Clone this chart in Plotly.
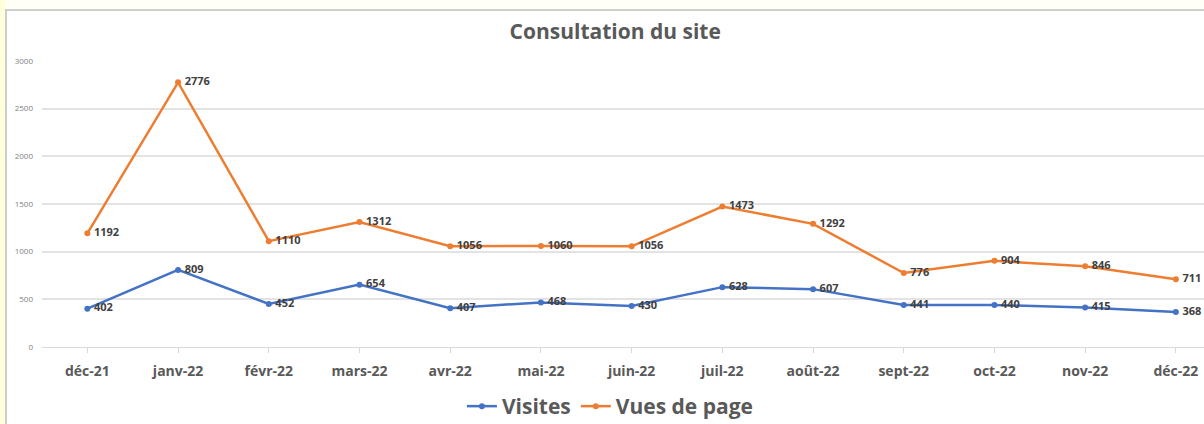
import plotly.graph_objects as go

# Data
months = ['déc-21', 'janv-22', 'févr-22', 'mars-22', 'avr-22', 'mai-22', 'juin-22',
          'juil-22', 'août-22', 'sept-22', 'oct-22', 'nov-22', 'déc-22']
visites = [402, 809, 452, 654, 407, 468, 430, 628, 607, 441, 440, 415, 368]
vues_de_page = [1192, 2776, 1110, 1312, 1056, 1060, 1056, 1473, 1292, 776, 904, 846, 711]
y_ticks = [0, 500, 1000, 1500, 2000, 2500, 3000]

# pixel geometry helpers (plot area: x 42..1204, y 61..347)
L, R, T, B = 42, 1204, 61, 347


def px_x(p):
    return (p - L) / (R - L)


def px_y(p):
    return (B - p) / (B - T)


fig = go.Figure()

series = [('Visites', visites, '#4472C4'), ('Vues de page', vues_de_page, '#ED7D31')]
for name, vals, col in series:
    fig.add_trace(go.Scatter(
        x=list(range(len(months))),
        y=vals,
        name=name,
        mode='lines+markers+text',
        line=dict(color=col, width=2.5),
        marker=dict(size=6, color=col),
        text=['\u2009' + str(v) for v in vals],
        textposition='middle right',
        textfont=dict(family='Open Sans', size=11, color='#404040', weight='bold'),
        cliponaxis=False,
    ))

fig.update_layout(
    width=1204, height=424,
    margin=dict(l=L, r=0, t=T, b=424 - B, autoexpand=False),
    paper_bgcolor='#fffff7',
    plot_bgcolor='white',
    title=dict(
        text='<b>Consultation du site</b>',
        x=0.511, xref='container', xanchor='center',
        y=1 - 32 / 424, yref='container', yanchor='middle',
        font=dict(family='Open Sans', size=21, color='#595959'),
    ),
    showlegend=True,
    legend=dict(
        orientation='h',
        x=0.507, xref='container', xanchor='center',
        y=1 - 386 / 424, yref='container', yanchor='top',
        font=dict(family='Open Sans', size=21, color='#595959', weight='bold'),
        itemwidth=30,
        traceorder='normal',
        bgcolor='rgba(0,0,0,0)',
    ),
    shapes=[
        # outer yellow strip at left
        dict(type='rect', xref='paper', yref='paper', layer='below',
             x0=px_x(-5), x1=px_x(6), y0=px_y(440), y1=px_y(-5),
             fillcolor='#ffffdc', line=dict(width=0)),
        # chart area
        dict(type='rect', xref='paper', yref='paper', layer='below',
             x0=px_x(6), x1=px_x(1215), y0=px_y(440), y1=px_y(10),
             fillcolor='white', line=dict(color='#bfbfbf', width=1.5)),
    ],
)

fig.update_xaxes(
    range=[-0.5, 12.31],
    tickmode='array',
    tickvals=list(range(len(months))),
    ticktext=months,
    tickangle=0,
    tickfont=dict(family='Open Sans', size=14, color='#595959', weight='bold'),
    showgrid=False,
    zeroline=False,
    showline=True, linecolor='#d9d9d9', linewidth=1,
    ticks='outside', ticklen=5, tickcolor='#d9d9d9',
    ticklabelstandoff=6,
)

fig.update_yaxes(
    range=[0, 3000],
    tickmode='array',
    tickvals=y_ticks,
    ticktext=[str(t) for t in y_ticks],
    tickfont=dict(family='Open Sans', size=8, color='#7f7f7f'),
    showgrid=True, gridcolor='#e3e3e3', gridwidth=1.5,
    zeroline=False,
    ticklabelstandoff=8,
)

# remove the default page margin so the figure fills the window exactly
fig.write_html('out.html', config={'displayModeBar': False},
               post_script="document.body.style.margin='0';")
